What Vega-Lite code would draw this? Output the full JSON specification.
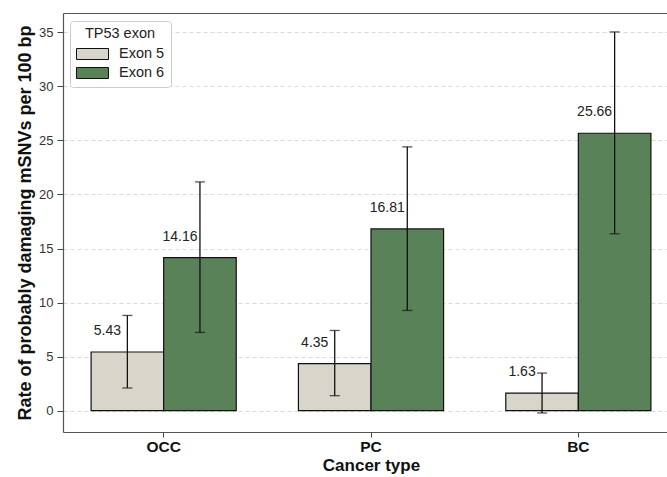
{
  "$schema": "https://vega.github.io/schema/vega-lite/v6.json",
  "width": 604,
  "height": 419,
  "autosize": {"type": "none"},
  "padding": {"left": 63, "top": 13, "right": 0, "bottom": 45},
  "background": "white",
  "config": {
    "font": "Liberation Sans",
    "view": {"stroke": null},
    "axis": {"domain": true, "domainColor": "#555555", "domainWidth": 1.2}
  },
  "data": {
    "values": [
      {"cancer": "OCC", "exon": "Exon 5", "rate": 5.43, "lo": 2.10, "hi": 8.81},
      {"cancer": "OCC", "exon": "Exon 6", "rate": 14.16, "lo": 7.24, "hi": 21.16},
      {"cancer": "PC", "exon": "Exon 5", "rate": 4.35, "lo": 1.39, "hi": 7.42},
      {"cancer": "PC", "exon": "Exon 6", "rate": 16.81, "lo": 9.27, "hi": 24.40},
      {"cancer": "BC", "exon": "Exon 5", "rate": 1.63, "lo": -0.21, "hi": 3.48},
      {"cancer": "BC", "exon": "Exon 6", "rate": 25.66, "lo": 16.36, "hi": 35.03}
    ]
  },
  "resolve": {"axis": {"x": "independent"}},
  "encoding": {
    "x": {
      "field": "cancer",
      "type": "nominal",
      "sort": ["OCC", "PC", "BC"],
      "scale": {"range": [0, 616], "paddingInner": 0.3, "paddingOuter": 0.1355},
      "axis": null
    },
    "xOffset": {
      "field": "exon",
      "type": "nominal",
      "sort": ["Exon 5", "Exon 6"],
      "scale": {"paddingInner": 0, "paddingOuter": 0}
    }
  },
  "layer": [
    {
      "mark": {"type": "bar", "stroke": "#111111", "strokeWidth": 1.2},
      "encoding": {
        "x": {
          "field": "cancer",
          "type": "nominal",
          "sort": ["OCC", "PC", "BC"],
          "axis": {
            "orient": "bottom",
            "title": "Cancer type",
            "titleFontSize": 17,
            "titleFontWeight": "bold",
            "titleColor": "#111111",
            "titlePadding": 3,
            "labelFontSize": 15.5,
            "labelFontWeight": "bold",
            "labelColor": "#111111",
            "labelAngle": 0,
            "labelPadding": 2,
            "tickSize": 5,
            "tickColor": "#444444",
            "tickWidth": 1,
            "grid": false
          }
        },
        "y": {
          "field": "rate",
          "type": "quantitative",
          "scale": {"domain": [-1.97, 36.78], "nice": false, "zero": false},
          "axis": {
            "title": "Rate of probably damaging mSNVs per 100 bp",
            "titleFontSize": 18,
            "titleFontWeight": "bold",
            "titleColor": "#111111",
            "titlePadding": 4,
            "values": [0, 5, 10, 15, 20, 25, 30, 35],
            "labelFontSize": 13,
            "labelColor": "#333333",
            "labelPadding": 4,
            "tickSize": 6,
            "tickColor": "#444444",
            "tickWidth": 1,
            "grid": true,
            "gridColor": "#d0d0d0",
            "gridDash": [4, 3],
            "gridWidth": 0.8
          }
        },
        "fill": {
          "field": "exon",
          "type": "nominal",
          "scale": {"domain": ["Exon 5", "Exon 6"], "range": ["#d8d6ca", "#5a8258"]},
          "legend": {
            "title": "TP53 exon",
            "orient": "none",
            "legendX": 7,
            "legendY": 8,
            "titleFontSize": 14.5,
            "titleFontWeight": "normal",
            "titleColor": "#222222",
            "titleAnchor": "middle",
            "titlePadding": 4,
            "labelFontSize": 14.5,
            "labelColor": "#222222",
            "labelOffset": 18,
            "symbolType": "M-2,-0.6875H2V0.6875H-2Z",
            "symbolSize": 256,
            "symbolOffset": 8,
            "symbolStrokeColor": "#111111",
            "symbolStrokeWidth": 1,
            "rowPadding": 3,
            "padding": 6,
            "strokeColor": "#cccccc",
            "fillColor": "white",
            "cornerRadius": 3
          }
        }
      }
    },
    {
      "mark": {"type": "rule", "color": "#111111", "strokeWidth": 1.3},
      "encoding": {
        "x": {
          "field": "cancer",
          "type": "nominal",
          "sort": ["OCC", "PC", "BC"],
          "axis": {"orient": "top", "title": null, "labels": false, "ticks": false, "grid": false, "domain": true}
        },
        "y": {"field": "lo", "type": "quantitative"},
        "y2": {"field": "hi"}
      }
    },
    {
      "mark": {"type": "tick", "color": "#111111", "size": 10, "thickness": 1.3, "orient": "horizontal"},
      "encoding": {"y": {"field": "lo", "type": "quantitative"}}
    },
    {
      "mark": {"type": "tick", "color": "#111111", "size": 10, "thickness": 1.3, "orient": "horizontal"},
      "encoding": {"y": {"field": "hi", "type": "quantitative"}}
    },
    {
      "mark": {"type": "text", "dx": -20, "dy": -21, "baseline": "middle", "align": "center", "fontSize": 14, "color": "#222222"},
      "encoding": {
        "y": {"field": "rate", "type": "quantitative"},
        "text": {"field": "rate", "type": "quantitative", "format": ".2f"}
      }
    }
  ]
}
